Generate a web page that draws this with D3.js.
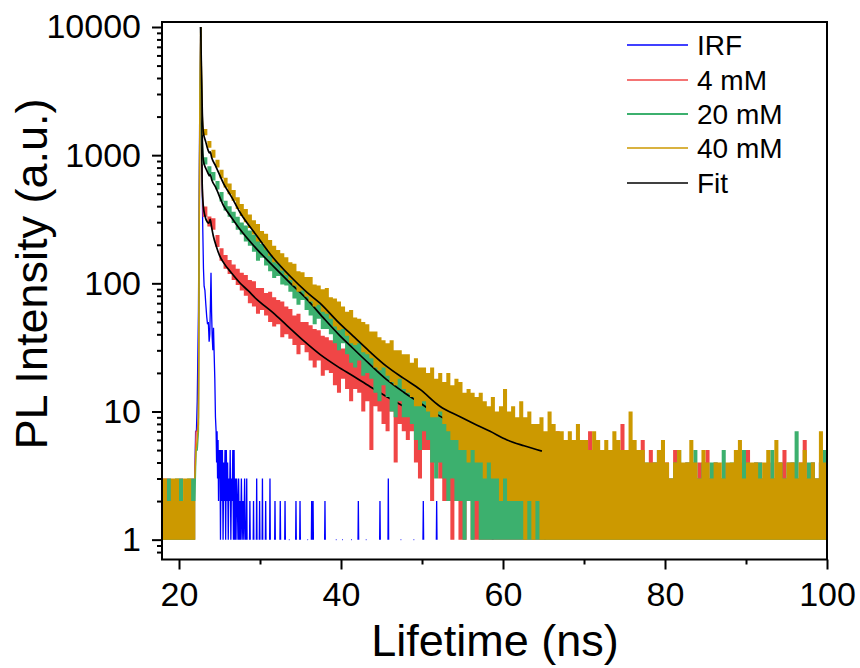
<!DOCTYPE html>
<html>
<head>
<meta charset="utf-8">
<title>PL decay</title>
<script src="https://cdn.jsdelivr.net/npm/d3@7"></script>
<style>
  body { margin: 0; background: #fff; }
  svg text { font-family: "Liberation Sans", Arial, sans-serif; fill: #000; }
</style>
</head>
<body>
<svg id="chart" width="860" height="668"></svg>
<script>
// legend / series
const seriesNames = ["IRF", "4 mM", "20 mM", "40 mM", "Fit"];
const seriesColors = ["#0000ff", "#f04646", "#3cb06e", "#cc9900", "#000000"];

// axis ticks
const majorX = [20, 40, 60, 80, 100];
const minorX = [30, 50, 70, 90];
const majorY = [1, 10, 100, 1000, 10000];
const minorSteps = [2, 3, 4, 5, 6, 7, 8, 9];
const minorBelowOne = [0.8, 0.9];

// pre-peak background, 0.5 ns bins from 18 ns (low / high count in each bin)
const preStart = 18, preStep = 0.5;
const preLo = [1, 1, 1, 1, 1, 1, 1, 1];
const redPreHi = [3, 3, 2, 2, 3, 2, 2, 3];
const greenPreHi = [2, 3, 2, 3, 3, 2, 3, 3];
const goldPreHi = [3, 2, 3, 3, 2, 3, 3, 2];

// rise and peak
const peakT = [21.95, 22.1, 22.25, 22.4, 22.47, 22.58, 22.68, 22.78, 22.88];
const redPeak = [3, 7, 7, 9, 100, 2500, 10000, 2000, 550];
const greenPeak = [2, 5, 5, 7, 120, 2800, 10000, 3000, 1250];
const goldPeak = [3, 5, 6, 8, 150, 3000, 10000, 4500, 2000];

// decay, 0.5 ns bins from 23 ns to 100 ns (low / high count in each bin)
const gridStart = 23, gridStep = 0.5;
const redLo = [
  330, 278, 262, 192, 150, 130, 118, 106, 97, 88,
  80, 70, 66, 58, 62, 56, 50, 46, 48, 38,
  40, 37, 33, 28, 33, 29, 25, 22, 25, 19,
  21, 20, 16, 14, 18, 15, 12, 15, 14, 10,
  12, 5, 11, 10, 8, 7, 10, 4, 8, 7,
  6, 7, 4, 3, 5, 5, 2, 4, 3, 2,
  2, 1, 2, 1, 1, 2, 1, 1, 1, 1,
  1, 1, 1, 1, 1, 1, 1, 1, 1, 1,
  1, 1, 1, 1, 1, 1, 1, 1, 1, 1,
  1, 1, 1, 1, 1, 1, 1, 1, 1, 1,
  1, 1, 1, 1, 1, 1, 1, 1, 1, 1,
  1, 1, 1, 1, 1, 1, 1, 1, 1, 1,
  1, 1, 1, 1, 1, 1, 1, 1, 1, 1,
  1, 1, 1, 1, 1, 1, 1, 1, 1, 1,
  1, 1, 1, 1, 1, 1, 1, 1, 1, 1,
  1, 1, 1, 1, 1
];
const redHi = [
  398, 332, 322, 238, 188, 166, 152, 140, 130, 121,
  116, 106, 104, 92, 92, 84, 86, 78, 74, 72,
  66, 63, 56, 58, 50, 50, 47, 44, 43, 39,
  38, 36, 35, 34, 31, 31, 28, 29, 27, 26,
  25, 24, 22, 23, 21, 20, 20, 18, 18, 17,
  17, 16, 15, 14, 15, 13, 13, 12, 12, 11,
  11, 11, 10, 10, 9, 9, 8, 9, 7, 8,
  7, 7, 8, 6, 6, 7, 5, 6, 6, 5,
  6, 5, 4, 5, 6, 4, 5, 7, 4, 5,
  5, 4, 6, 4, 4, 7, 5, 4, 5, 4,
  4, 5, 4, 8, 5, 4, 4, 5, 6, 3,
  5, 4, 3, 4, 4, 3, 5, 4, 3, 4,
  4, 3, 4, 4, 5, 3, 4, 3, 4, 3,
  3, 4, 4, 3, 5, 3, 4, 4, 3, 3,
  4, 3, 4, 5, 3, 4, 3, 4, 6, 3,
  4, 3, 4, 3, 4
];
const greenLo = [
  845, 710, 635, 540, 435, 370, 330, 296, 262, 240,
  212, 196, 176, 150, 158, 138, 124, 110, 114, 98,
  96, 86, 76, 68, 74, 62, 56, 48, 53, 44,
  44, 40, 34, 30, 34, 28, 24, 22, 25, 19,
  20, 18, 14, 12, 16, 13, 10, 9, 12, 9,
  9, 8, 6, 5, 7, 6, 4, 3, 4, 3,
  2, 3, 2, 2, 1, 2, 1, 2, 1, 1,
  1, 1, 1, 1, 1, 1, 1, 1, 1, 1,
  1, 1, 1, 1, 1, 1, 1, 1, 1, 1,
  1, 1, 1, 1, 1, 1, 1, 1, 1, 1,
  1, 1, 1, 1, 1, 1, 1, 1, 1, 1,
  1, 1, 1, 1, 1, 1, 1, 1, 1, 1,
  1, 1, 1, 1, 1, 1, 1, 1, 1, 1,
  1, 1, 1, 1, 1, 1, 1, 1, 1, 1,
  1, 1, 1, 1, 1, 1, 1, 1, 1, 1,
  1, 1, 1, 1, 1
];
const greenHi = [
  965, 820, 740, 630, 515, 440, 400, 362, 330, 298,
  282, 258, 240, 218, 204, 190, 176, 166, 152, 144,
  134, 124, 116, 110, 100, 94, 88, 82, 74, 70,
  66, 62, 57, 54, 48, 46, 43, 41, 37, 35,
  33, 31, 29, 27, 26, 24, 23, 22, 21, 20,
  20, 18, 17, 17, 16, 15, 15, 14, 13, 13,
  14, 12, 12, 11, 12, 10, 10, 10, 9, 9,
  9, 8, 9, 7, 8, 7, 7, 8, 6, 6,
  7, 6, 5, 6, 6, 5, 5, 4, 6, 5,
  4, 5, 5, 4, 3, 5, 4, 4, 5, 3,
  4, 4, 5, 3, 4, 5, 4, 3, 4, 4,
  3, 4, 5, 4, 3, 3, 4, 5, 3, 4,
  4, 5, 3, 4, 3, 4, 4, 3, 5, 3,
  4, 3, 3, 5, 4, 3, 4, 4, 3, 3,
  5, 3, 4, 3, 4, 4, 7, 3, 3, 4,
  4, 3, 4, 5, 3
];
const goldLo = [
  1430, 1140, 955, 800, 660, 560, 495, 440, 380, 335,
  300, 270, 240, 212, 205, 184, 164, 146, 142, 126,
  116, 106, 96, 86, 88, 79, 72, 66, 68, 60,
  58, 53, 46, 43, 44, 39, 34, 33, 34, 29,
  28, 26, 22, 21, 22, 19, 17, 16, 18, 15,
  14, 13, 11, 11, 12, 10, 9, 9, 10, 8,
  7, 6, 6, 5, 5, 4, 5, 4, 4, 3,
  4, 3, 3, 2, 3, 2, 2, 2, 2, 1,
  2, 1, 2, 1, 1, 1, 1, 1, 1, 1,
  1, 1, 1, 1, 1, 1, 1, 1, 1, 1,
  1, 1, 1, 1, 1, 1, 1, 1, 1, 1,
  1, 1, 1, 1, 1, 1, 1, 1, 1, 1,
  1, 1, 1, 1, 1, 1, 1, 1, 1, 1,
  1, 1, 1, 1, 1, 1, 1, 1, 1, 1,
  1, 1, 1, 1, 1, 1, 1, 1, 1, 1,
  1, 1, 1, 1, 1
];
const goldHi = [
  1600, 1290, 1100, 920, 770, 665, 600, 535, 470, 415,
  380, 344, 310, 290, 256, 244, 218, 196, 182, 172,
  160, 146, 142, 124, 122, 112, 112, 98, 96, 90,
  92, 78, 76, 72, 66, 60, 62, 54, 53, 50,
  48, 42, 42, 38, 36, 34, 36, 30, 30, 28,
  28, 24, 26, 22, 22, 20, 22, 18, 20, 17,
  20, 16, 18, 17, 14, 15, 14, 13, 14, 12,
  11, 13, 10, 11, 15, 10, 11, 9, 12, 9,
  10, 8, 8, 9, 7, 10, 8, 7, 7, 6,
  7, 6, 8, 6, 6, 5, 7, 6, 5, 6,
  5, 7, 6, 5, 5, 10, 6, 5, 5, 4,
  4, 4, 5, 6, 4, 3, 4, 5, 4, 4,
  6, 4, 3, 5, 4, 3, 4, 4, 3, 4,
  4, 5, 6, 3, 4, 4, 4, 3, 4, 5,
  3, 6, 4, 3, 4, 4, 3, 4, 5, 3,
  4, 3, 7, 4, 3
];

// instrument response (0 = no count)
const irfT = [21.95, 22.05, 22.15, 22.25, 22.4, 22.55, 22.68, 22.8, 22.92, 23.02,
  23.1, 23.2, 23.3, 23.42, 23.52, 23.62, 23.72, 23.8, 23.88, 23.95,
  24.02, 24.1, 24.18, 24.26, 24.34, 24.42, 24.5, 24.58, 24.64, 24.7,
  24.76, 24.82, 24.88, 24.94, 25.0, 25.06, 25.12, 25.2, 25.28, 25.36,
  25.44, 25.52, 25.6, 25.68, 25.76, 25.84, 25.92, 26.0, 26.08, 26.16,
  26.24, 26.32, 26.4, 26.48, 26.56, 26.64, 26.72, 26.8, 26.88, 26.96,
  27.04, 27.12, 27.2, 27.28, 27.36, 27.44, 27.52, 27.6, 27.7, 27.8,
  27.9, 28.0, 28.1, 28.2, 28.25];
const irfV = [3, 7, 7, 12, 60, 2000, 10000, 1500, 300, 130,
  95, 88, 70, 55, 48, 50, 35, 40, 70, 121,
  60, 38, 30, 45, 28, 18, 9, 7, 4, 7,
  3, 6, 2, 5, 3, 5, 1, 5, 2, 5,
  1, 4, 2, 5, 1, 5, 2, 4, 1, 3,
  2, 5, 1, 3, 2, 5, 1, 5, 1, 3,
  1, 3, 2, 1, 3, 1, 2, 1, 3, 1,
  2, 1, 3, 1, 0];
const irfSpikeT = [28.36, 28.75, 29.2, 29.59, 29.95, 30.3, 30.7, 31.23, 31.85, 32.5,
  33.09, 33.6, 34.44, 34.94, 35.9, 36.38, 36.55, 38.02, 39.4, 40.2,
  41.3, 42.14, 43.1, 44.81, 45.84, 47.4, 49.0, 50.16, 51.81, 58.73, 65.19];
const irfSpikeV = [3, 2, 2, 3, 2, 3, 2, 3, 2, 2,
  2, 1, 2, 2, 1, 2, 2, 2, 1, 1,
  1, 2, 1, 2, 3, 1, 1, 2, 2, 2, 2];

// fitted curves
const redFitT = [22.68, 22.76, 22.86, 23.0, 23.2, 23.5, 23.7, 23.85, 24.0, 24.23,
  24.6, 25.0, 25.5, 26.5, 27.5, 28.5, 29.6, 31.6, 33.3, 35.3,
  37.4, 39.5, 41.5, 43.6, 45.6, 47.7, 49.8, 52.3, 53.7];
const redFitV = [10000, 2000, 600, 400, 337, 300, 295, 315, 280, 235,
  195, 165, 145, 120, 101, 88, 75, 59, 47, 36,
  27.9, 22.6, 18.9, 15.6, 13.1, 11, 9.2, 7.5, 6.5];
const greenFitT = [22.68, 22.78, 22.88, 23.0, 23.3, 23.6, 23.75, 23.85, 24.05, 24.5,
  25.5, 26.5, 27.5, 29.6, 31.6, 33.7, 35.8, 37.8, 39.7, 41.5,
  43.5, 45.6, 47.7, 49.8, 52.2, 54.7];
const greenFitV = [10000, 3000, 1300, 910, 790, 720, 690, 705, 640, 565,
  403, 325, 265, 185, 137, 101, 75, 54, 40, 31,
  23.5, 17.8, 14.2, 11.6, 9.2, 7.6];
const goldFitT = [22.68, 22.78, 22.88, 23.0, 23.3, 23.6, 23.75, 23.85, 24.05, 24.5,
  25.5, 26.5, 27.5, 29.6, 31.6, 33.7, 35.8, 37.4, 39.5, 41.5,
  43.5, 45.6, 47.7, 49.8, 52.2, 54.7, 56.3, 58.4, 60.5, 62.6, 64.8];
const goldFitV = [10000, 4200, 2100, 1520, 1270, 1090, 1040, 1060, 950, 830,
  600, 470, 360, 235, 159, 114, 85, 70, 51, 38.7,
  29.5, 22.6, 18.2, 14.8, 11.0, 9.1, 8.1, 7.0, 6.0, 5.4, 4.9];

const svg = d3.select("#chart");
const x = d3.scaleLinear().domain([17.9, 100]).range([162, 827]);
const y = d3.scaleLog().domain([0.7, 10940]).range([559.5, 22]);

svg.append("defs").append("clipPath").attr("id", "plot")
  .append("rect").attr("x", 162).attr("y", 22).attr("width", 665).attr("height", 537.5);

const line = d3.line().defined(d => d[1] > 0).x(d => x(d[0])).y(d => y(d[1]));
const fitLine = d3.line().x(d => x(d[0])).y(d => y(d[1])).curve(d3.curveMonotoneX);
// noise band: each bin filled from its lowest to its highest count
const band = d3.area().x(d => x(d[0])).y0(d => y(d[1])).y1(d => y(d[2]))
  .curve(d3.curveStepAfter);

function bins(start, step, lo, hi) {
  const rows = lo.map((v, i) => [start + i * step, v, hi[i]]);
  const last = rows[rows.length - 1];
  rows.push([last[0] + step, last[1], last[2]]);
  return rows;
}

const irfPts = irfT.map((t, i) => [t, irfV[i]]);
irfSpikeT.forEach((t, i) => {
  irfPts.push([t - 0.04, 1], [t, irfSpikeV[i]], [t + 0.04, 1], [t + 0.05, 0]);
});

const zip = (ts, vs) => ts.map((t, i) => [t, vs[i]]);

const plot = svg.append("g").attr("clip-path", "url(#plot)");

plot.append("path").attr("d", line(irfPts)).attr("fill", "none")
  .attr("stroke", seriesColors[0]).attr("stroke-width", 1.3);

const layers = [
  [redPreHi, redPeak, redLo, redHi, zip(redFitT, redFitV), seriesColors[1]],
  [greenPreHi, greenPeak, greenLo, greenHi, zip(greenFitT, greenFitV), seriesColors[2]],
  [goldPreHi, goldPeak, goldLo, goldHi, zip(goldFitT, goldFitV), seriesColors[3]]
];
layers.forEach(([preHi, peakV, lo, hi, fit, color]) => {
  const g = plot.append("g");
  g.append("path").attr("d", band(bins(preStart, preStep, preLo, preHi))).attr("fill", color);
  g.append("path").attr("d", band(bins(gridStart, gridStep, lo, hi))).attr("fill", color);
  const peak = zip(peakT, peakV).concat([[gridStart, lo[0]]]);
  g.append("path").attr("d", line(peak)).attr("fill", "none")
    .attr("stroke", color).attr("stroke-width", 1.4);
  g.append("path").attr("d", fitLine(fit)).attr("fill", "none")
    .attr("stroke", seriesColors[4]).attr("stroke-width", 1.7);
});

// axes
const fontFam = '"Liberation Sans", Arial, sans-serif';
function styleAxis(g) {
  g.select(".domain").remove();
  g.selectAll(".tick line").attr("stroke", "#000").attr("stroke-width", 2);
  g.attr("font-size", 34).attr("font-family", fontFam);
  g.selectAll("text").attr("fill", "#000");
}

svg.append("g").attr("transform", "translate(0,559.5)")
  .call(d3.axisBottom(x).tickValues(majorX).tickSize(10).tickSizeOuter(0)
    .tickPadding(12).tickFormat(d3.format("d")))
  .call(styleAxis);
svg.append("g").attr("transform", "translate(0,559.5)")
  .call(d3.axisBottom(x).tickValues(minorX).tickSize(5).tickSizeOuter(0).tickFormat(""))
  .call(styleAxis);

const minorY = minorBelowOne.concat(majorY.slice(0, 4).flatMap(m => minorSteps.map(k => k * m)));
svg.append("g").attr("transform", "translate(162,0)")
  .call(d3.axisLeft(y).tickValues(majorY).tickSize(10).tickSizeOuter(0)
    .tickPadding(11).tickFormat(d3.format("d")))
  .call(styleAxis);
svg.append("g").attr("transform", "translate(162,0)")
  .call(d3.axisLeft(y).tickValues(minorY).tickSize(5).tickSizeOuter(0).tickFormat(""))
  .call(styleAxis);

// frame
svg.append("rect").attr("x", 162).attr("y", 22).attr("width", 665).attr("height", 537.5)
  .attr("fill", "none").attr("stroke", "#000").attr("stroke-width", 2);

// titles
svg.append("text").attr("x", 495).attr("y", 656).attr("text-anchor", "middle")
  .attr("font-size", 45).text("Lifetime (ns)");
svg.append("text").attr("transform", "translate(47,274) rotate(-90)")
  .attr("text-anchor", "middle").attr("font-size", 45).text("PL Intensity (a.u.)");

// legend
const legendRows = [45, 80, 114, 148, 183];
const legend = svg.append("g");
seriesNames.forEach((name, i) => {
  legend.append("line").attr("x1", 627).attr("x2", 688)
    .attr("y1", legendRows[i]).attr("y2", legendRows[i])
    .attr("stroke", seriesColors[i]).attr("stroke-width", i === 2 ? 2 : 1.5);
  legend.append("text").attr("x", 697).attr("y", legendRows[i]).attr("dy", "0.35em")
    .attr("font-size", 28).text(name);
});
</script>
</body>
</html>
